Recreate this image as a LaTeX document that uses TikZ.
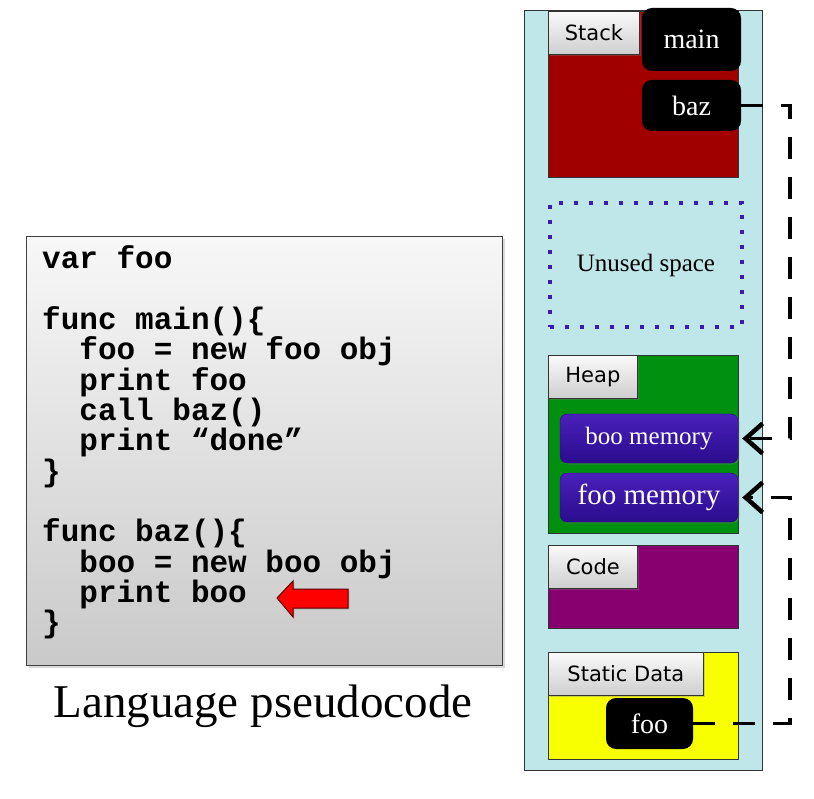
\documentclass[tikz,border=0pt]{standalone}
\usepackage{fontspec}
\setmainfont{Liberation Serif}
\setsansfont{DejaVu Sans}
\setmonofont{Liberation Mono}
\usetikzlibrary{arrows.meta,shadows}

\definecolor{colbg}{HTML}{BFE6E8}
\definecolor{stackred}{HTML}{A00000}
\definecolor{heapgreen}{HTML}{009010}
\definecolor{codepurple}{HTML}{880070}
\definecolor{datayellow}{HTML}{F8FF00}
\definecolor{dotblue}{HTML}{3A1CB0}
\definecolor{memtop}{HTML}{4A20BC}
\definecolor{membot}{HTML}{2A0C8C}

\newcommand{\codeind}{\hspace*{1.2em}}

\tikzset{
  region/.style={draw=black!80, line width=0.8pt, anchor=north west, inner sep=0pt},
  tag/.style={draw=black!80, line width=0.8pt, anchor=north west, top color=gray!4, bottom color=gray!38,
    font=\sffamily\fontsize{21}{24}\selectfont, minimum height=43pt, inner sep=0pt,
    drop shadow={opacity=0.35,shadow xshift=1.5pt,shadow yshift=-1.5pt}},
  blk/.style={fill=black, rounded corners=10pt, text=white, font=\fontsize{28}{30}\selectfont, inner sep=0pt},
  mem/.style={top color=memtop, bottom color=membot, draw=membot, rounded corners=7pt, text=white,
    minimum width=178pt, minimum height=49pt, inner sep=0pt,
    drop shadow={opacity=0.3,shadow xshift=1.5pt,shadow yshift=-1.5pt}},
  link/.style={line width=3.5pt, dash pattern=on 22pt off 18pt,
    -{Straight Barb[length=17pt,width=30pt,line width=4.5pt]}},
  codeln/.style={anchor=base west, inner sep=0pt, font=\ttfamily\bfseries\fontsize{31}{31}\selectfont}
}

\begin{document}
\begin{tikzpicture}[x=1pt,y=-1pt]
  \useasboundingbox (0,0) rectangle (814,799);

  % source listing
  \node[anchor=north west, draw=black!75, line width=1.2pt, top color=gray!6, bottom color=gray!42,
        minimum width=476pt, minimum height=429pt, inner sep=0pt,
        drop shadow={opacity=0.3,shadow xshift=2pt,shadow yshift=-2pt}] (src) at (26,236) {};
  \foreach \n/\txt in {0/{var foo}, 2/{func main()\{}, 3/{\codeind foo = new foo obj},
      4/{\codeind print foo}, 5/{\codeind call baz()}, 6/{\codeind print “done”}, 7/{\}},
      9/{func baz()\{}, 10/{\codeind boo = new boo obj}, 11/{\codeind print boo}, 12/{\}}}
    \node[codeln] (line\n) at (42,{269+30.3*\n}) {\txt};
  \draw[fill=red, draw=red!35!black, line width=1pt,
        drop shadow={opacity=0.3,shadow xshift=1.5pt,shadow yshift=-1.5pt}]
    (277,598) -- (293,581) -- (293,589) -- (348,589) -- (348,608) -- (293,608) -- (293,617) -- cycle;
  \node[anchor=base, font=\fontsize{47}{50}\selectfont] (caption) at (263,717) {Language pseudocode};

  % memory column
  \node[region, fill=colbg, minimum width=238pt, minimum height=760pt] (mem) at (524,10) {};
  \node[region, fill=stackred, minimum width=190pt, minimum height=166pt] (stack) at (548,11) {};
  \node[tag, minimum width=91pt] (stacktag) at (stack.north west) {Stack};
  \node[blk, minimum width=99pt, minimum height=63pt] (main) at (691.5,39.5) {main};
  \node[blk, minimum width=99pt, minimum height=51pt] (baz) at (691.5,105.5) {baz};

  \node[region, draw=dotblue, line width=4pt, dash pattern=on 4pt off 11pt,
        minimum width=192pt, minimum height=124pt, font=\fontsize{25}{28}\selectfont] (unused) at (548,201) {Unused space};

  \node[region, fill=heapgreen, minimum width=190pt, minimum height=178pt] (heap) at (548,355) {};
  \node[tag, minimum width=89pt] (heaptag) at (heap.north west) {Heap};
  \node[mem, font=\fontsize{25}{28}\selectfont] (boomem) at (649,438.5) {boo memory};
  \node[mem, font=\fontsize{29}{30}\selectfont] (foomem) at (649,497.5) {foo memory};

  \node[region, fill=codepurple, minimum width=190pt, minimum height=83pt] (code) at (548,545) {};
  \node[tag, minimum width=89pt] (codetag) at (code.north west) {Code};

  \node[region, fill=datayellow, minimum width=190pt, minimum height=107pt] (data) at (548,652) {};
  \node[tag, minimum width=155pt] (datatag) at (data.north west) {Static Data};
  \node[blk, minimum width=87pt, minimum height=51pt] (sfoo) at (649.5,723.5) {foo};

  % pointers
  \draw[link] (baz.east) -- (790,105.5) -- (790,438.5) -- ([xshift=4pt]boomem.east);
  \draw[link] (sfoo.east) -- (790,723.5) -- (790,497.5) -- ([xshift=4pt]foomem.east);
\end{tikzpicture}
\end{document}
